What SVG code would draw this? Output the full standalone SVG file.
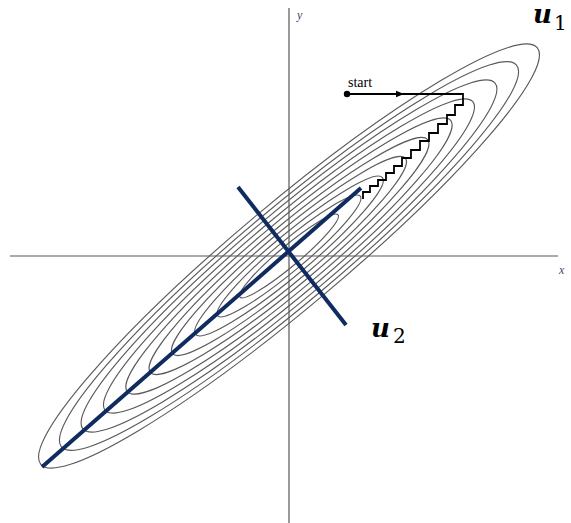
<svg xmlns="http://www.w3.org/2000/svg" width="571" height="523" viewBox="0 0 571 523">
<style>
.ell{fill:none;stroke:#5a5a5a;stroke-width:1.15}
.axis-v{stroke:#555;stroke-width:1.2}
.axis-h{stroke:#aaa;stroke-width:2}
.eig{stroke:#0f2b5f;stroke-width:4;stroke-linecap:butt}
.ax{font-family:"Liberation Serif",serif;font-style:italic;font-size:12px;fill:#3a4a6a}
.vec{font-family:"DejaVu Serif",serif;font-weight:bold;font-style:italic;font-size:26px;fill:#000}
.sub{font-family:"DejaVu Serif",serif;font-size:20px;fill:#000}
.lbl{font-family:"Liberation Serif",serif;font-size:14px;fill:#000}
.path{fill:none;stroke:#000;stroke-width:1.8}
</style>
<defs>
<marker id="arr" viewBox="0 0 10 10" refX="5" refY="5" markerWidth="10" markerHeight="8" markerUnits="userSpaceOnUse" orient="auto">
<path d="M0,1 L10,5 L0,9 Z" fill="#000"/>
</marker>
</defs>
<rect width="571" height="523" fill="#fff"/>
<g id="axes">
<line class="axis-h" x1="10" y1="256" x2="558" y2="256"/>
<line class="axis-v" x1="289" y1="8" x2="289" y2="523"/>
<text class="ax" x="297" y="19">y</text>
<text class="ax" x="559" y="274">x</text>
</g>
<g id="contours" transform="translate(289 256) rotate(-40)">
<ellipse class="ell" rx="324" ry="52"/>
<ellipse class="ell" rx="297" ry="47.6"/>
<ellipse class="ell" rx="269" ry="43.2"/>
<ellipse class="ell" rx="240" ry="38.5"/>
<ellipse class="ell" rx="211" ry="33.8"/>
<ellipse class="ell" rx="181" ry="29"/>
<ellipse class="ell" rx="152" ry="24.4"/>
<ellipse class="ell" rx="122" ry="19.6"/>
<ellipse class="ell" rx="93" ry="14.9"/>
<ellipse class="ell" rx="64" ry="10.2"/>
</g>
<g id="connectors">
<line class="eig" x1="42" y1="467" x2="361" y2="188"/>
<line class="eig" x1="238" y1="187" x2="346" y2="325"/>
<path class="path" d="M347,94 H400" marker-end="url(#arr)"/>
<path class="path" d="M398,94 H463 V105 H455 V115 H447 V124 H438 V133 H429 V141 H420 V150 H411 V158 H402 V166 H394 V173 H386 V180 H378 V186 H370 V192 H363 V199"/>
</g>
<g id="start">
<circle cx="347" cy="94" r="3.2" fill="#000"/>
<text class="lbl" x="348" y="87">start</text>
</g>
<g id="u1">
<text class="vec" x="533" y="23">u</text>
<text class="sub" x="554" y="30">1</text>
</g>
<g id="u2">
<text class="vec" x="371" y="337">u</text>
<text class="sub" x="393" y="343">2</text>
</g>
</svg>
